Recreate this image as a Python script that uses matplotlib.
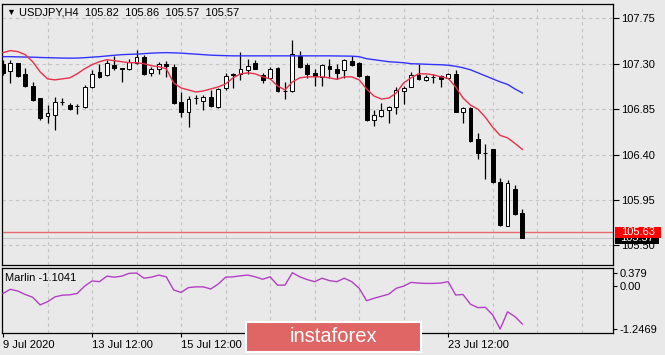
import matplotlib
matplotlib.use('Agg')
import matplotlib.pyplot as plt
from matplotlib.patches import Rectangle
from matplotlib.transforms import blended_transform_factory

# ---------------- data ----------------
symbol_title = "USDJPY,H4  105.82  105.86  105.57  105.57"
opens = [107.30, 107.23, 107.31, 107.20, 107.08, 106.96, 106.78, 106.79, 106.92, 106.89,
         106.88, 106.87, 107.07, 107.22, 107.19, 107.29, 107.26, 107.25, 107.31, 107.37,
         107.21, 107.25, 107.30, 107.27, 106.92, 106.82, 106.96, 106.93, 106.97, 106.87,
         107.06, 107.20, 107.20, 107.24, 107.31, 107.19, 107.16, 107.26, 107.03, 107.03,
         107.38, 107.29, 107.21, 107.17, 107.28, 107.25, 107.24, 107.33, 107.31, 107.18,
         106.74, 106.78, 106.84, 106.87, 107.03, 107.07, 107.19, 107.14, 107.17, 107.18,
         107.16, 107.20, 106.82, 106.86, 106.55, 106.42, 106.45, 106.13, 105.69, 106.06,
         105.82]
highs = [107.34, 107.34, 107.31, 107.26, 107.12, 106.96, 106.89, 106.97, 106.96, 106.91,
         106.90, 107.09, 107.24, 107.30, 107.34, 107.38, 107.26, 107.35, 107.44, 107.39,
         107.27, 107.32, 107.33, 107.30, 107.02, 106.98, 106.99, 106.99, 107.04, 107.06,
         107.21, 107.21, 107.42, 107.35, 107.34, 107.21, 107.27, 107.27, 107.12, 107.54,
         107.43, 107.31, 107.25, 107.30, 107.35, 107.30, 107.35, 107.38, 107.32, 107.19,
         106.84, 106.91, 106.88, 107.07, 107.08, 107.22, 107.30, 107.19, 107.20, 107.19,
         107.21, 107.24, 106.87, 106.87, 106.61, 106.50, 106.45, 106.17, 106.15, 106.10,
         105.86]
lows = [107.19, 107.11, 107.17, 107.07, 106.93, 106.74, 106.71, 106.64, 106.89, 106.84,
        106.80, 106.86, 107.06, 107.16, 107.18, 107.24, 107.12, 107.24, 107.30, 107.19,
        107.18, 107.20, 107.17, 106.90, 106.77, 106.67, 106.90, 106.84, 106.87, 106.86,
        107.04, 107.06, 107.14, 107.20, 107.25, 107.11, 107.15, 107.02, 106.95, 107.02,
        107.26, 107.16, 107.08, 107.08, 107.16, 107.15, 107.16, 107.28, 107.17, 106.73,
        106.68, 106.77, 106.71, 106.80, 106.90, 107.07, 107.14, 107.13, 107.11, 107.07,
        107.15, 106.82, 106.71, 106.52, 106.36, 106.16, 106.12, 105.69, 105.69, 105.80,
        105.57]
closes = [107.21, 107.31, 107.18, 107.08, 106.94, 106.76, 106.81, 106.92, 106.92, 106.85,
          106.88, 107.07, 107.20, 107.17, 107.31, 107.26, 107.25, 107.32, 107.37, 107.20,
          107.25, 107.30, 107.28, 106.91, 106.82, 106.95, 106.96, 106.97, 106.88, 107.05,
          107.18, 107.19, 107.25, 107.28, 107.25, 107.14, 107.25, 107.03, 107.03, 107.40,
          107.27, 107.20, 107.18, 107.29, 107.25, 107.21, 107.34, 107.29, 107.18, 106.74,
          106.79, 106.84, 106.87, 107.04, 107.06, 107.19, 107.15, 107.17, 107.165, 107.15,
          107.20, 106.82, 106.86, 106.53, 106.42, 106.415, 106.13, 105.70, 106.12, 105.81,
          105.57]
ma_fast = [107.41, 107.43, 107.42, 107.39, 107.32, 107.22, 107.15, 107.14, 107.15, 107.16,
           107.20, 107.25, 107.29, 107.32, 107.34, 107.33, 107.32, 107.31, 107.31, 107.30,
           107.28, 107.27, 107.25, 107.11, 107.06, 107.04, 107.02, 107.03, 107.05, 107.07,
           107.10, 107.16, 107.20, 107.21, 107.20, 107.17, 107.15, 107.08, 107.04, 107.12,
           107.16, 107.17, 107.17, 107.17, 107.16, 107.145, 107.17, 107.17, 107.14, 107.05,
           106.98, 106.95, 106.96, 107.01, 107.11, 107.16, 107.20, 107.20, 107.19, 107.17,
           107.155, 107.07, 106.96, 106.89, 106.85, 106.77, 106.67, 106.59, 106.565, 106.51,
           106.45]
ma_slow = [107.37, 107.37, 107.368, 107.366, 107.365, 107.362, 107.36, 107.358, 107.356, 107.355,
           107.356, 107.36, 107.365, 107.37, 107.377, 107.384, 107.39, 107.393, 107.395, 107.40,
           107.405, 107.408, 107.41, 107.408, 107.405, 107.40, 107.395, 107.39, 107.385, 107.382,
           107.38, 107.378, 107.378, 107.378, 107.378, 107.378, 107.378, 107.378, 107.378, 107.378,
           107.378, 107.378, 107.378, 107.378, 107.378, 107.377, 107.376, 107.375, 107.37, 107.35,
           107.34, 107.33, 107.32, 107.315, 107.31, 107.30, 107.298, 107.295, 107.292, 107.29,
           107.285, 107.275, 107.26, 107.24, 107.21, 107.18, 107.15, 107.12, 107.095, 107.05,
           107.01]
marlin = [-0.22, -0.10, -0.15, -0.25, -0.33, -0.55, -0.46, -0.32, -0.27, -0.26,
          -0.22, -0.01, 0.14, 0.12, 0.28, 0.25, 0.28, 0.36, 0.37, 0.22,
          0.25, 0.31, 0.26, -0.12, -0.19, -0.05, -0.03, -0.03, -0.09, 0.05,
          0.25, 0.26, 0.29, 0.31, 0.26, 0.19, 0.26, 0.02, 0.02, 0.379,
          0.26, 0.18, 0.12, 0.22, 0.15, 0.12, 0.22, 0.12, -0.07, -0.43,
          -0.36, -0.30, -0.24, -0.07, -0.01, 0.10, 0.08, 0.07, 0.07, 0.08,
          0.12, -0.265, -0.25, -0.53, -0.63, -0.62, -0.84, -1.2469, -0.75, -0.89,
          -1.1041]
price_ticks = [105.50, 105.95, 106.40, 106.85, 107.30, 107.75]
price_tick_labels = ["105.50", "105.95", "106.40", "106.85", "107.30", "107.75"]
marlin_ticks = [0.379, 0.0, -1.2469]
marlin_tick_labels = ["0.379", "0.00", "-1.2469"]
time_tick_bars = [0, 12, 24, 36, 48, 60]
time_tick_labels = ["9 Jul 2020", "13 Jul 12:00", "15 Jul 12:00", "17 Jul 12:00",
                    "21 Jul 12:00", "23 Jul 12:00"]
level_price = 105.63
bid_price = 105.57
marlin_label = "Marlin -1.1041"

# ---------------- layout ----------------
W, H = 665, 355
BG = '#e9e9e9'
FONT = ['Liberation Sans', 'DejaVu Sans']
plt.rcParams['font.family'] = FONT

def fx(px):
    return px / W

def fy(py):
    return 1 - py / H

fig = plt.figure(figsize=(W / 100, H / 100), dpi=100)
fig.patch.set_facecolor(BG)

ax = fig.add_axes([fx(2), fy(265), fx(613) - fx(2), fy(4) - fy(265)])
ax2 = fig.add_axes([fx(2), fy(333), fx(613) - fx(2), fy(268) - fy(333)])

n = len(opens)
idx = list(range(n))
XMIN, XMAX = -0.135, 82.21
GRID_C = '#c4c4c4'

for a in (ax, ax2):
    a.set_facecolor(BG)
    a.set_xlim(XMIN, XMAX)
    for s in a.spines.values():
        s.set_color('black')
        s.set_linewidth(0.9)
    for k in range(6, 83, 6):
        a.axvline(k, color=GRID_C, lw=0.8, ls=(0, (3, 3)), zorder=0.5)

# ---- main panel ----
ax.set_ylim(105.305, 107.892)
for p in price_ticks:
    ax.axhline(p, color=GRID_C, lw=0.8, ls=(0, (3, 3)), zorder=0.5)

ax.axhline(bid_price, color='#c8c8c8', lw=0.8, zorder=1)
ax.axhline(level_price, color='#e86a6a', lw=1.0, zorder=1)

bw = 0.52
for i in idx:
    o, h, l, c = opens[i], highs[i], lows[i], closes[i]
    ax.vlines(i, l, h, color='black', lw=0.9, zorder=2)
    bull = c >= o
    ax.add_patch(Rectangle((i - bw / 2, min(o, c)), bw, abs(c - o),
                           facecolor='white' if bull else 'black',
                           edgecolor='black', lw=0.7, zorder=3))

ax.plot(idx, ma_slow, color='#3333ff', lw=1.0, zorder=4)
ax.plot(idx, ma_fast, color='#e8304c', lw=1.0, zorder=4)

ax.yaxis.tick_right()
ax.set_yticks(price_ticks)
ax.set_yticklabels(price_tick_labels)
ax.tick_params(axis='y', length=4, width=0.8, pad=2, labelsize=8, colors='black')
ax.set_xticks([])

# price label boxes
trans = blended_transform_factory(ax.transAxes, ax.transData)
ax.add_patch(Rectangle((1.0033, bid_price - 0.056), 0.0720, 0.112, transform=trans,
                       facecolor='black', edgecolor='none', clip_on=False, zorder=6))
ax.text(1.0393, bid_price, f"{bid_price:.2f}", transform=trans, color='white',
        fontsize=8, ha='center', va='center', zorder=7, clip_on=False)
ax.add_patch(Rectangle((1.0033, level_price - 0.056), 0.0753, 0.112, transform=trans,
                       facecolor='#ff0000', edgecolor='none', clip_on=False, zorder=8))
ax.text(1.041, level_price, f"{level_price:.2f}", transform=trans, color='white',
        fontsize=8, ha='center', va='center', zorder=9, clip_on=False)

# ---- Marlin panel ----
ax2.set_ylim(-1.362, 0.515)
ax2.plot(idx, marlin, color='#b33fc6', lw=1.0, zorder=3)
ax2.yaxis.tick_right()
ax2.set_yticks(marlin_ticks)
ax2.set_yticklabels(marlin_tick_labels)
ax2.tick_params(axis='y', length=3, width=0.8, pad=2, labelsize=8, colors='black')
ax2.set_xticks(time_tick_bars)
ax2.set_xticklabels(time_tick_labels)
ax2.tick_params(axis='x', length=3, width=0.8, pad=2, labelsize=8, colors='black')
for t in ax2.get_xticklabels():
    t.set_ha('left')
ax2.text((5 - 2) / 611, 0.85, marlin_label, transform=ax2.transAxes,
         fontsize=8, ha='left', va='center', color='black')

# ---- title ----
fig.text(fx(6), fy(12.5), '\u25BC', fontsize=6.5, ha='left', va='center', color='black')
fig.text(fx(19), fy(12.5), symbol_title, fontsize=8, ha='left', va='center', color='black')

# ---- watermark logo ----
logo = Rectangle((fx(246), fy(352)), fx(421) - fx(246), fy(322) - fy(352),
                 transform=fig.transFigure, facecolor='#e06666', edgecolor='white',
                 lw=1.5, zorder=10)
fig.add_artist(logo)
fig.text(fx(333), fy(337), 'instaforex', color='white', fontsize=14.5,
         ha='center', va='center', zorder=11)

fig.savefig('out.png', dpi=100, facecolor=BG)
